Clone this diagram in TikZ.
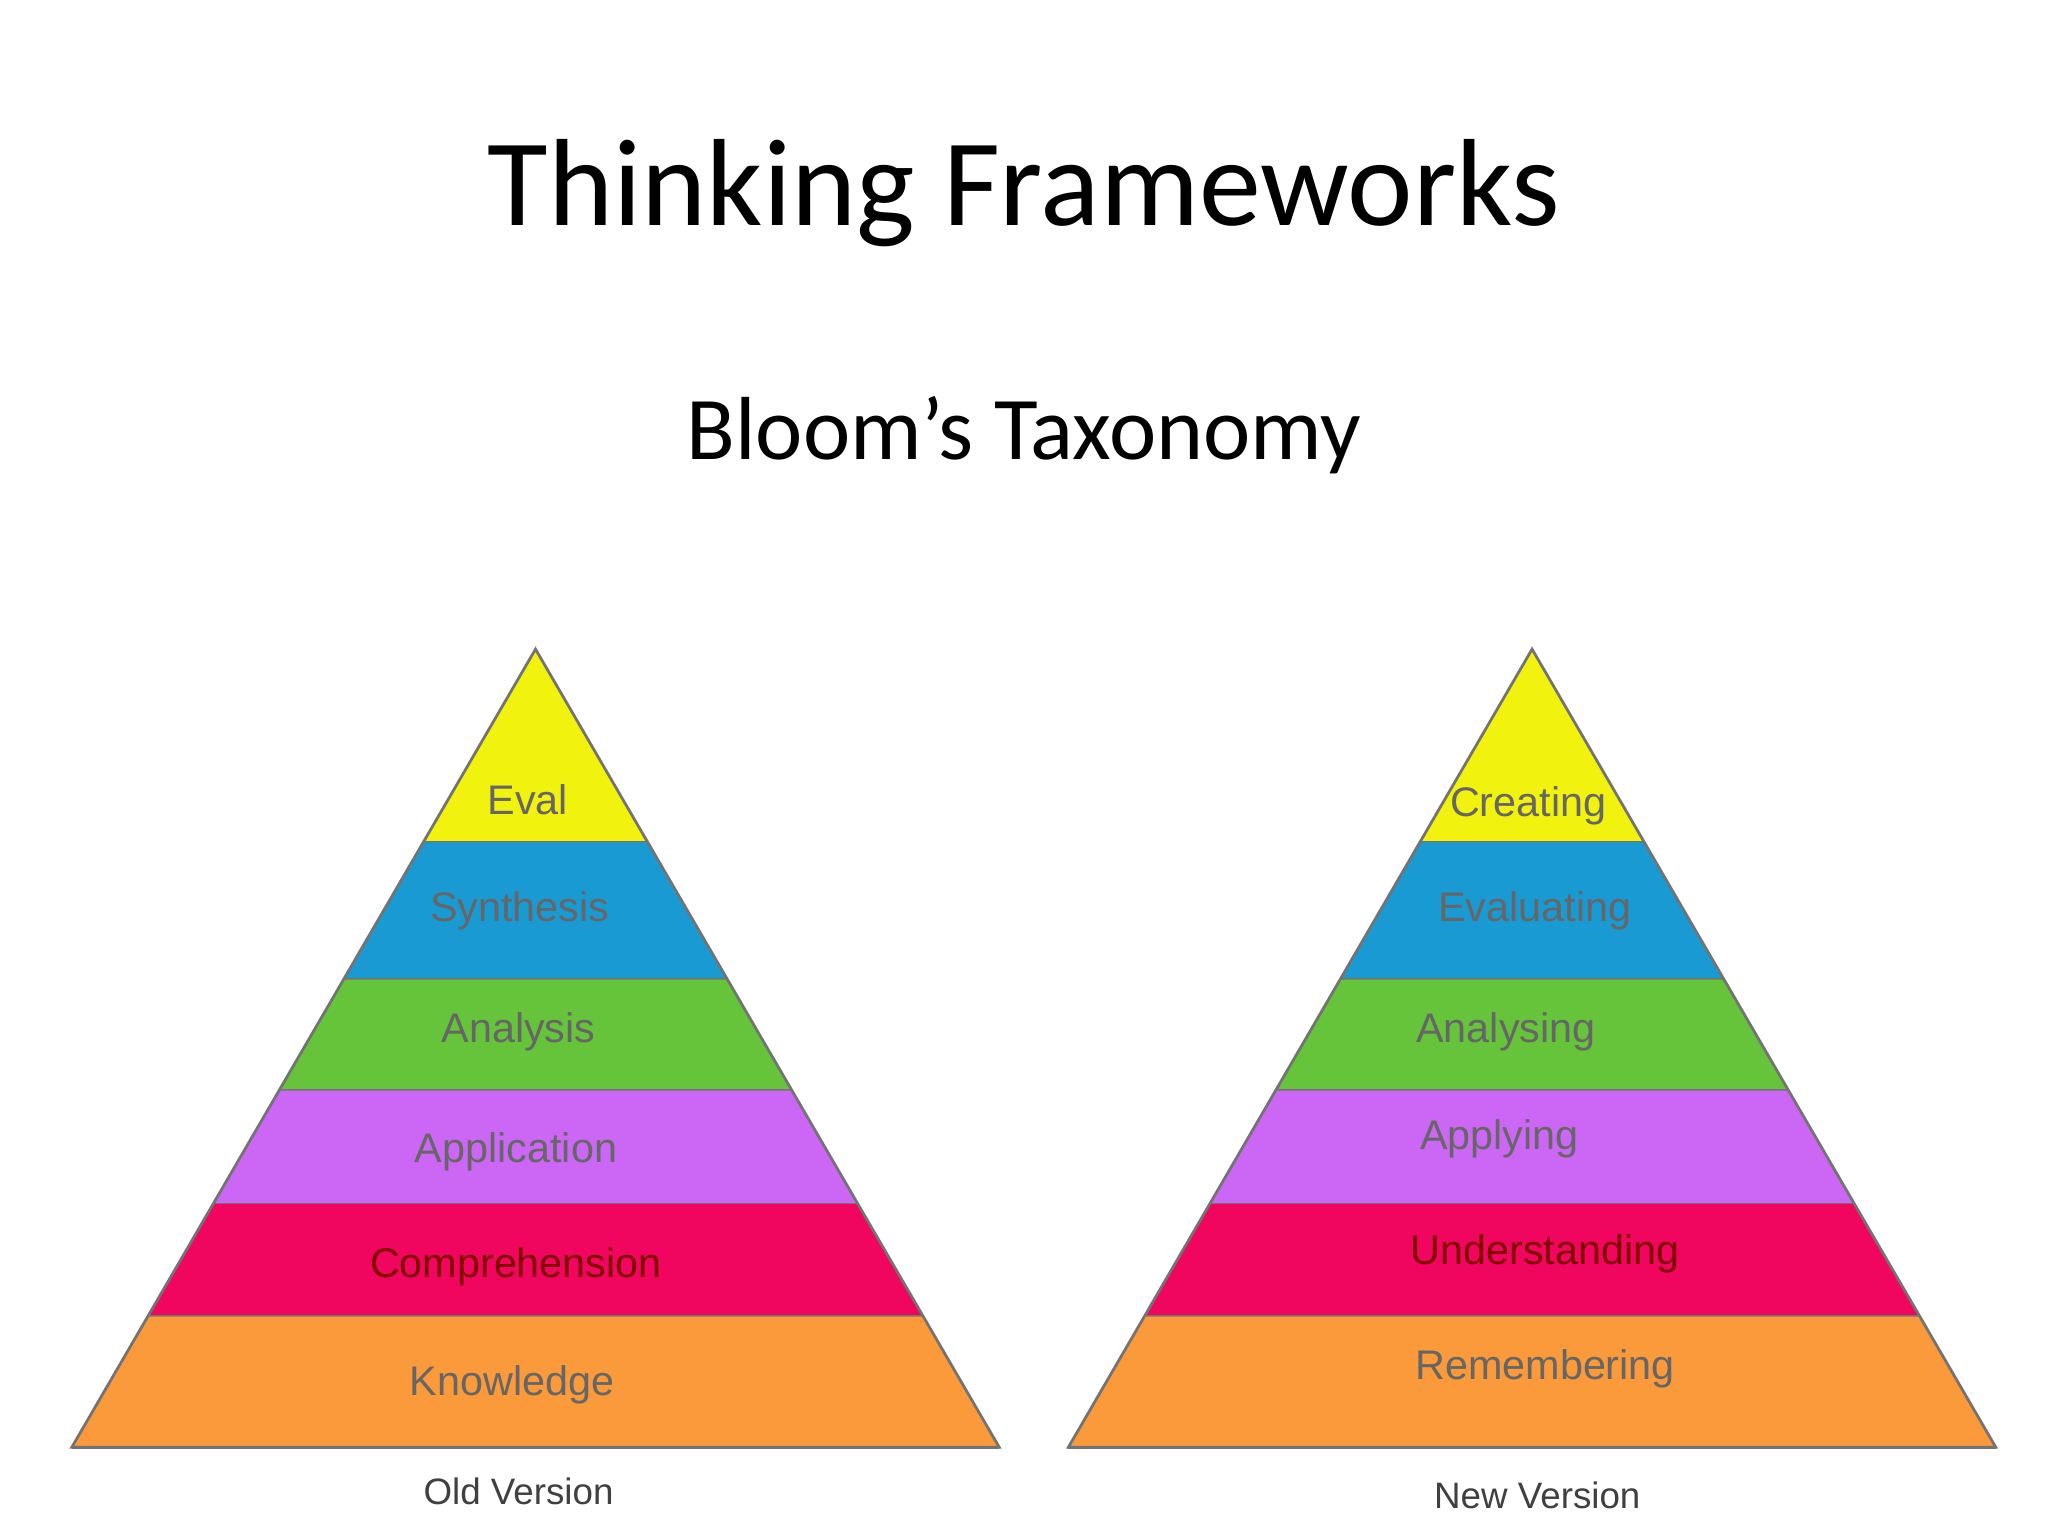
\documentclass[tikz,border=0pt]{standalone}
\usepackage{fontspec}
\setmainfont{Carlito}
\newfontfamily\labfont{Liberation Sans}
\usetikzlibrary{calc}
\definecolor{cyel}{HTML}{F2F20F}
\definecolor{cblu}{HTML}{1A9AD2}
\definecolor{cgrn}{HTML}{66C43A}
\definecolor{cpur}{HTML}{CC66F5}
\definecolor{cred}{HTML}{F0065E}
\definecolor{corg}{HTML}{FB9A3A}
\tikzset{
  lab/.style={font=\labfont\fontsize{9}{10}\selectfont, text=black!60},
  captext/.style={font=\labfont\fontsize{8}{9}\selectfont, text=black!75},
}
% \pband{cx}{y1}{y2}{color}{name}
\newcommand{\pband}[5]{%
  \fill[#4] ($(#1,497)!{(#2-497)/611}!(#1-355,1108)$) -- ($(#1,497)!{(#2-497)/611}!(#1+355,1108)$)
    -- ($(#1,497)!{(#3-497)/611}!(#1+355,1108)$) -- ($(#1,497)!{(#3-497)/611}!(#1-355,1108)$) -- cycle;
  \draw[black!55, line width=0.6pt] ($(#1,497)!{(#3-497)/611}!(#1-355,1108)$) -- ($(#1,497)!{(#3-497)/611}!(#1+355,1108)$);
  \coordinate (#5) at (#1,{(#2+#3)/2});
}
\begin{document}
\begin{tikzpicture}[x=0.01cm,y=-0.01cm]
\useasboundingbox (0,0) rectangle (1568,1176);
\fill[white] (0,0) rectangle (1568,1176);
\node[font=\fontsize{27}{30}\selectfont] (title) at (784,148) {Thinking Frameworks};
\node[font=\fontsize{19.5}{22}\selectfont] (sub) at (784,333) {Bloom’s Taxonomy};
% left
\pband{410}{497}{645}{cyel}{l1}
\pband{410}{645}{750}{cblu}{l2}
\pband{410}{750}{835}{cgrn}{l3}
\pband{410}{835}{922}{cpur}{l4}
\pband{410}{922}{1008}{cred}{l5}
\pband{410}{1008}{1108}{corg}{l6}
\draw[black!55, line width=0.6pt] (410,497) -- (55,1108) -- (765,1108) -- cycle;
\node[lab] (tl1) at (404,612) {Eval};
\node[lab] (tl2) at (398,697) {Synthesis};
\node[lab] (tl3) at (397,790) {Analysis};
\node[lab] (tl4) at (395,882) {Application};
\node[lab, text=red!50!black] (tl5) at (395,970) {Comprehension};
\node[lab] (tl6) at (392,1060) {Knowledge};
\node[captext] (ol) at (397,1142) {Old Version};
% right
\pband{1173}{497}{645}{cyel}{r1}
\pband{1173}{645}{750}{cblu}{r2}
\pband{1173}{750}{835}{cgrn}{r3}
\pband{1173}{835}{922}{cpur}{r4}
\pband{1173}{922}{1008}{cred}{r5}
\pband{1173}{1008}{1108}{corg}{r6}
\draw[black!55, line width=0.6pt] (1173,497) -- (818,1108) -- (1528,1108) -- cycle;
\node[lab] (tr1) at (1170,617) {Creating};
\node[lab] (tr2) at (1175,697) {Evaluating};
\node[lab] (tr3) at (1153,790) {Analysing};
\node[lab] (tr4) at (1148,872) {Applying};
\node[lab, text=red!50!black] (tr5) at (1183,960) {Understanding};
\node[lab] (tr6) at (1183,1048) {Remembering};
\node[captext] (nl) at (1177,1145) {New Version};
\end{tikzpicture}
\end{document}
